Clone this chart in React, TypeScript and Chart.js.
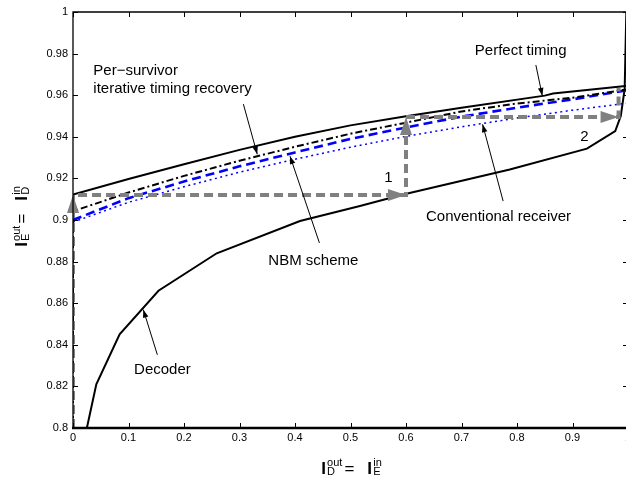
import React, { useEffect, useRef } from "react";
import { Chart, registerables } from "chart.js";

Chart.register(...registerables);

const FONT = '"Liberation Sans", Arial, Helvetica, sans-serif';

// ---- Tick values and labels ----
const X_TICKS = [0, 0.1, 0.2, 0.3, 0.4, 0.5, 0.6, 0.7, 0.8, 0.9, 1];
const X_TICK_LABELS = ["0", "0.1", "0.2", "0.3", "0.4", "0.5", "0.6", "0.7", "0.8", "0.9", "1"];
const Y_TICKS = [0.8, 0.82, 0.84, 0.86, 0.88, 0.9, 0.92, 0.94, 0.96, 0.98, 1];
const Y_TICK_LABELS = ["0.8", "0.82", "0.84", "0.86", "0.88", "0.9", "0.92", "0.94", "0.96", "0.98", "1"];

// ---- Series ----
const PERFECT_X = [0, 0.1, 0.2, 0.3, 0.4, 0.5, 0.6, 0.7, 0.85, 0.865, 1];
const PERFECT_Y = [0.9123, 0.9197, 0.9268, 0.9337, 0.94, 0.9455, 0.9499, 0.954, 0.9598, 0.9608, 0.9645];

const PERSURV_X = [0, 0, 0.1, 0.2, 0.3, 0.4, 0.5, 0.6, 0.7, 0.8, 0.9, 1];
const PERSURV_Y = [0.8, 0.9042, 0.9132, 0.9212, 0.9285, 0.9352, 0.9415, 0.9468, 0.9522, 0.956, 0.9588, 0.9628];

const NBM_X = [0, 0.1, 0.2, 0.3, 0.4, 0.5, 0.6, 0.7, 0.8, 0.9, 1];
const NBM_Y = [0.9, 0.9105, 0.9185, 0.9258, 0.9325, 0.939, 0.9445, 0.9497, 0.954, 0.958, 0.9625];

const CONV_X = [0, 0.1, 0.2, 0.3, 0.4, 0.5, 0.6, 0.7, 0.8, 0.9, 1];
const CONV_Y = [0.899, 0.9085, 0.916, 0.923, 0.9292, 0.935, 0.9402, 0.9448, 0.949, 0.9528, 0.9562];

const DEC_X = [0.025, 0.042, 0.084, 0.154, 0.259, 0.409, 0.517, 0.595, 0.787, 0.926, 0.977, 0.987, 0.994, 0.997];
const DEC_Y = [0.8, 0.821, 0.845, 0.866, 0.884, 0.8995, 0.9067, 0.9123, 0.9243, 0.9343, 0.9428, 0.95, 0.963, 1.0];

const TRAJ_X = [0, 0, 0.6, 0.6, 0.983, 0.983];
const TRAJ_Y = [0.8, 0.912, 0.912, 0.9495, 0.9495, 0.9635];

// ---- Annotation texts (data coordinates) ----
const LABEL_TEXTS = [
  { text: "Per\u2212survivor", x: 0.0366, y: 0.9717 },
  { text: "iterative timing recovery", x: 0.0366, y: 0.9629 },
  { text: "Perfect timing", x: 0.724, y: 0.9814 },
  { text: "Conventional receiver", x: 0.636, y: 0.9015 },
  { text: "NBM scheme", x: 0.352, y: 0.8805 },
  { text: "Decoder", x: 0.11, y: 0.828 },
  { text: "1", x: 0.561, y: 0.9203 },
  { text: "2", x: 0.914, y: 0.94 },
];
const LABEL_ARROWS = [
  { x1: 0.307, y1: 0.9557, x2: 0.332, y2: 0.9316 },
  { x1: 0.834, y1: 0.9745, x2: 0.8456, y2: 0.9597 },
  { x1: 0.775, y1: 0.9091, x2: 0.738, y2: 0.946 },
  { x1: 0.444, y1: 0.889, x2: 0.391, y2: 0.9307 },
  { x1: 0.152, y1: 0.8352, x2: 0.1267, y2: 0.8569 },
];

function pts(xs: number[], ys: number[]) {
  return xs.map((x, i) => ({ x, y: ys[i] }));
}

function arrowHead(ctx: CanvasRenderingContext2D, x1: number, y1: number, x2: number, y2: number, len: number, hw: number) {
  const a = Math.atan2(y2 - y1, x2 - x1);
  const bx = x2 - len * Math.cos(a);
  const by = y2 - len * Math.sin(a);
  ctx.beginPath();
  ctx.moveTo(x2, y2);
  ctx.lineTo(bx + hw * Math.sin(a), by - hw * Math.cos(a));
  ctx.lineTo(bx - hw * Math.sin(a), by + hw * Math.cos(a));
  ctx.closePath();
  ctx.fill();
}

function richTitle(ctx: CanvasRenderingContext2D, sup1: string, sub1: string, sup2: string, sub2: string, draw: boolean) {
  const big = "bold 17px " + FONT;
  const eq = "17px " + FONT;
  const small = "11px " + FONT;
  let x = 0;
  const group = (sup: string, sub: string) => {
    ctx.font = big;
    if (draw) ctx.fillText("I", x, 0);
    x += ctx.measureText("I").width + 1.2;
    ctx.font = small;
    const w = Math.max(ctx.measureText(sup).width, ctx.measureText(sub).width);
    if (draw) {
      ctx.fillText(sup, x, -7.5);
      ctx.fillText(sub, x, 1.5);
    }
    x += w;
  };
  group(sup1, sub1);
  x += 2;
  ctx.font = eq;
  if (draw) ctx.fillText("=", x, 0);
  x += ctx.measureText("=").width + 13;
  group(sup2, sub2);
  return x;
}

const decorPlugin = {
  id: "decor",
  afterDatasetsDraw(chart: any) {
    const ctx: CanvasRenderingContext2D = chart.ctx;
    const xs = chart.scales.x;
    const ys = chart.scales.y;
    const px = (v: number) => xs.getPixelForValue(v);
    const py = (v: number) => ys.getPixelForValue(v);
    ctx.save();
    // trajectory arrowheads
    ctx.fillStyle = "#808080";
    for (let i = 1; i < TRAJ_X.length - 1; i++) {
      arrowHead(ctx, px(TRAJ_X[i - 1]), py(TRAJ_Y[i - 1]), px(TRAJ_X[i]), py(TRAJ_Y[i]), 18, 6);
    }
    // annotation arrows
    ctx.strokeStyle = "#000";
    ctx.fillStyle = "#000";
    ctx.lineWidth = 1;
    for (const a of LABEL_ARROWS) {
      const x1 = px(a.x1), y1 = py(a.y1), x2 = px(a.x2), y2 = py(a.y2);
      ctx.beginPath();
      ctx.moveTo(x1, y1);
      ctx.lineTo(x2, y2);
      ctx.stroke();
      arrowHead(ctx, x1, y1, x2, y2, 8, 2.8);
    }
    // annotation texts
    ctx.font = "15px " + FONT;
    ctx.textBaseline = "middle";
    ctx.textAlign = "left";
    for (const t of LABEL_TEXTS) {
      ctx.fillText(t.text, px(t.x), py(t.y));
    }
    ctx.restore();
  },
  afterDraw(chart: any) {
    const ctx: CanvasRenderingContext2D = chart.ctx;
    const { left, right, top, bottom } = chart.chartArea;
    const xs = chart.scales.x;
    const ys = chart.scales.y;
    ctx.save();
    ctx.strokeStyle = "#000";
    // box
    ctx.lineWidth = 1.3;
    ctx.beginPath();
    ctx.moveTo(left, bottom);
    ctx.lineTo(left, top);
    ctx.lineTo(right, top);
    ctx.lineTo(right, bottom);
    ctx.stroke();
    ctx.lineWidth = 2.4;
    ctx.beginPath();
    ctx.moveTo(left - 1, bottom);
    ctx.lineTo(right, bottom);
    ctx.stroke();
    // inward ticks
    ctx.lineWidth = 1;
    ctx.beginPath();
    for (const v of X_TICKS) {
      const x = Math.round(xs.getPixelForValue(v)) + 0.5;
      ctx.moveTo(x, bottom);
      ctx.lineTo(x, bottom - 5);
      ctx.moveTo(x, top);
      ctx.lineTo(x, top + 5);
    }
    for (const v of Y_TICKS) {
      const y = Math.round(ys.getPixelForValue(v)) + 0.5;
      ctx.moveTo(left, y);
      ctx.lineTo(left + 5, y);
      ctx.moveTo(right, y);
      ctx.lineTo(right - 5, y);
    }
    ctx.stroke();
    // axis titles
    ctx.fillStyle = "#000";
    ctx.textBaseline = "alphabetic";
    ctx.textAlign = "left";
    const wx = richTitle(ctx, "out", "D", "in", "E", false);
    ctx.save();
    ctx.translate((left + right) / 2 + 1 - wx / 2, 473.5);
    richTitle(ctx, "out", "D", "in", "E", true);
    ctx.restore();
    const wy = richTitle(ctx, "out", "E", "in", "D", false);
    ctx.save();
    ctx.translate(27, 216.5);
    ctx.rotate(-Math.PI / 2);
    ctx.translate(-wy / 2, 0);
    richTitle(ctx, "out", "E", "in", "D", true);
    ctx.restore();
    ctx.restore();
  },
};

export default function App() {
  const ref = useRef<HTMLCanvasElement | null>(null);
  useEffect(() => {
    document.body.style.margin = "0";
    document.body.style.overflow = "hidden";
    document.documentElement.style.overflow = "hidden";
    const canvas = ref.current;
    if (!canvas) return;
    const chart = new Chart(canvas, {
      type: "scatter",
      data: {
        datasets: [
          {
            data: pts(TRAJ_X, TRAJ_Y),
            showLine: true,
            borderColor: "#808080",
            borderWidth: 4,
            borderDash: [9, 5],
            borderCapStyle: "butt",
            pointRadius: 0,
          },
          {
            data: pts(PERFECT_X, PERFECT_Y),
            showLine: true,
            borderColor: "#000",
            borderWidth: 2,
            pointRadius: 0,
          },
          {
            data: pts(PERSURV_X, PERSURV_Y),
            showLine: true,
            borderColor: "#000",
            borderWidth: 2,
            borderDash: [7, 3, 2, 3],
            pointRadius: 0,
          },
          {
            data: pts(NBM_X, NBM_Y),
            showLine: true,
            borderColor: "#0000ff",
            borderWidth: 2.6,
            borderDash: [9, 5],
            pointRadius: 0,
          },
          {
            data: pts(CONV_X, CONV_Y),
            showLine: true,
            borderColor: "#0000ff",
            borderWidth: 1.5,
            borderDash: [2, 3.5],
            pointRadius: 0,
          },
          {
            data: pts(DEC_X, DEC_Y),
            showLine: true,
            borderColor: "#000",
            borderWidth: 2,
            pointRadius: 0,
          },
        ],
      } as any,
      options: {
        animation: false,
        responsive: false,
        devicePixelRatio: 1,
        layout: { padding: { left: 0, right: 12, top: 12, bottom: 0 } },
        plugins: { legend: { display: false }, tooltip: { enabled: false } },
        elements: { line: { tension: 0 }, point: { radius: 0 } },
        scales: {
          x: {
            type: "linear",
            min: 0,
            max: 1,
            grid: { display: false, drawTicks: false },
            border: { display: false },
            afterBuildTicks: (s: any) => {
              s.ticks = X_TICKS.map((v) => ({ value: v }));
            },
            afterFit: (s: any) => {
              s.height = 61;
            },
            ticks: {
              padding: 3,
              color: "#000",
              autoSkip: false,
              maxRotation: 0,
              font: { family: FONT, size: 11 },
              callback: (_v: any, i: number) => X_TICK_LABELS[i],
            },
          },
          y: {
            type: "linear",
            min: 0.8,
            max: 1,
            grid: { display: false, drawTicks: false },
            border: { display: false },
            afterBuildTicks: (s: any) => {
              s.ticks = Y_TICKS.map((v) => ({ value: v }));
            },
            afterFit: (s: any) => {
              s.width = 73;
            },
            ticks: {
              padding: 5,
              color: "#000",
              autoSkip: false,
              font: { family: FONT, size: 11 },
              callback: (_v: any, i: number) => Y_TICK_LABELS[i],
            },
          },
        },
      } as any,
      plugins: [decorPlugin],
    });
    return () => chart.destroy();
  }, []);
  return (
    <div style={{ width: 640, height: 489, overflow: "hidden" }}>
      <canvas ref={ref} width={640} height={489} style={{ display: "block", width: 640, height: 489 }} />
    </div>
  );
}
